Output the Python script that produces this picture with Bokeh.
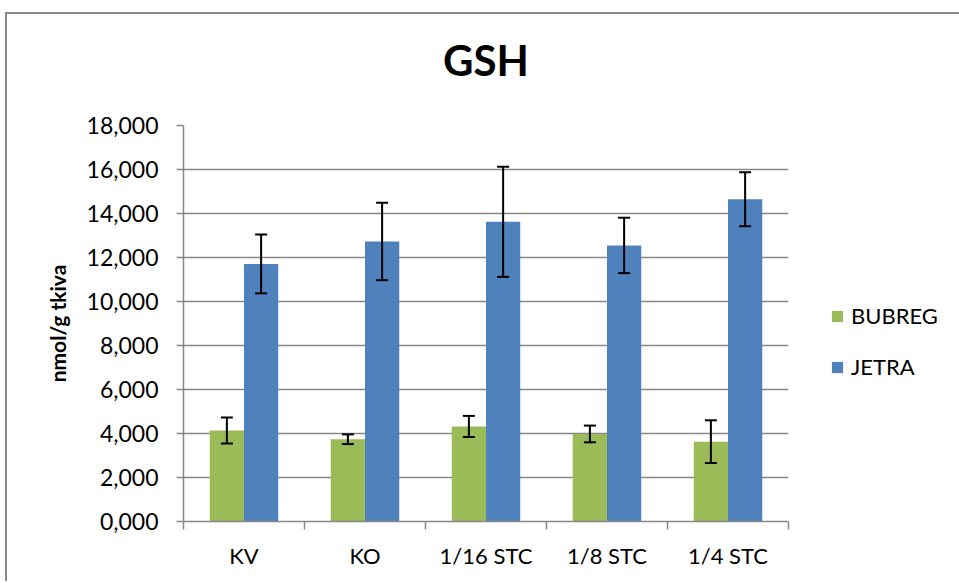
from bokeh.plotting import figure
from bokeh.models import (ColumnDataSource, Range1d, LinearAxis,
                          FixedTicker, Whisker, TeeHead, Legend, LegendItem)
from bokeh.transform import dodge
from bokeh.embed import file_html
from bokeh.resources import INLINE

title_text = "GSH"
y_label = "nmol/g tkiva"
categories = ["KV", "KO", "1/16 STC", "1/8 STC", "1/4 STC"]
bubreg = [4.14, 3.74, 4.32, 3.98, 3.63]
bubreg_err = [0.59, 0.22, 0.48, 0.38, 0.97]
jetra = [11.71, 12.73, 13.62, 12.55, 14.65]
jetra_err = [1.34, 1.76, 2.50, 1.26, 1.23]
y_ticks = [0, 2, 4, 6, 8, 10, 12, 14, 16, 18]
y_tick_labels = ["0,000", "2,000", "4,000", "6,000", "8,000", "10,000", "12,000", "14,000", "16,000", "18,000"]

FONT = "Lato"
GREEN = "#9BBB59"
BLUE = "#4F81BD"
GRID = "#888888"

n = len(categories)
centers = [i + 0.5 for i in range(n)]
src = ColumnDataSource(dict(
    x=centers,
    bub=bubreg, bub_lo=[v - e for v, e in zip(bubreg, bubreg_err)], bub_hi=[v + e for v, e in zip(bubreg, bubreg_err)],
    jet=jetra, jet_lo=[v - e for v, e in zip(jetra, jetra_err)], jet_hi=[v + e for v, e in zip(jetra, jetra_err)],
))

p = figure(x_range=Range1d(0, n), y_range=Range1d(0, 18),
           width=940, height=569, frame_width=605, frame_height=396,
           min_border_left=176, min_border_right=159, min_border_top=111, min_border_bottom=62,
           x_axis_location=None, y_axis_location=None,
           output_backend="svg", toolbar_location=None)
p.styles = {"margin-left": "7px", "margin-top": "14px",
            "box-shadow": "-2px -2px 0px 0px #8a8a8a"}

p.outline_line_color = None
p.background_fill_color = "white"
p.border_fill_color = "white"

# chart title (as a label-only axis above the frame)
taxis = LinearAxis(ticker=FixedTicker(ticks=[]))
taxis.axis_label = title_text
taxis.axis_label_text_font = FONT
taxis.axis_label_text_font_size = "42px"
taxis.axis_label_text_font_style = "bold"
taxis.axis_label_text_color = "black"
taxis.axis_label_standoff = 41
taxis.axis_line_color = None
taxis.major_tick_line_color = None
taxis.minor_tick_line_color = None
taxis.major_tick_out = 0
taxis.major_tick_in = 0
taxis.major_label_standoff = 0
p.add_layout(taxis, "above")

# y axis
yaxis = LinearAxis(ticker=FixedTicker(ticks=y_ticks),
                   major_label_overrides={t: l for t, l in zip(y_ticks, y_tick_labels)})
yaxis.axis_label = y_label
yaxis.axis_label_text_font = FONT
yaxis.axis_label_text_font_size = "21px"
yaxis.axis_label_text_font_style = "bold"
yaxis.axis_label_text_color = "black"
yaxis.axis_label_standoff = 14
yaxis.major_label_text_font = FONT
yaxis.major_label_text_font_size = "23px"
yaxis.major_label_text_color = "black"
yaxis.major_label_standoff = 18
yaxis.axis_line_color = GRID
yaxis.axis_line_width = 1.5
yaxis.major_tick_line_color = GRID
yaxis.major_tick_line_width = 1.5
yaxis.major_tick_out = 7
yaxis.major_tick_in = 0
yaxis.minor_tick_line_color = None
p.add_layout(yaxis, "left")

# boundary tick axis (category separators)
bounds = list(range(n + 1))
baxis = LinearAxis(ticker=FixedTicker(ticks=bounds),
                   major_label_overrides={i: "" for i in bounds})
baxis.axis_line_color = GRID
baxis.axis_line_width = 1.5
baxis.major_tick_line_color = GRID
baxis.major_tick_line_width = 1.5
baxis.major_tick_out = 8
baxis.major_tick_in = 0
baxis.minor_tick_line_color = None
baxis.major_label_text_font_size = "1px"
baxis.major_label_standoff = 0
p.add_layout(baxis, "below")

# category label axis
xaxis = LinearAxis(ticker=FixedTicker(ticks=centers),
                   major_label_overrides={c: name for c, name in zip(centers, categories)})
xaxis.axis_line_color = None
xaxis.major_tick_line_color = None
xaxis.minor_tick_line_color = None
xaxis.major_label_text_font = FONT
xaxis.major_label_text_font_size = "22px"
xaxis.major_label_text_color = "black"
xaxis.major_label_standoff = 6
p.add_layout(xaxis, "below")

p.xgrid.grid_line_color = None
p.ygrid.ticker = FixedTicker(ticks=y_ticks)
p.ygrid.grid_line_color = GRID
p.ygrid.grid_line_width = 1.5

W = 0.283
rb = p.vbar(x=dodge("x", -W / 2), top="bub", width=W, source=src,
            fill_color=GREEN, line_color=None)
rj = p.vbar(x=dodge("x", W / 2), top="jet", width=W, source=src,
            fill_color=BLUE, line_color=None)

for base_off, lo, hi in [(-W / 2, "bub_lo", "bub_hi"), (W / 2, "jet_lo", "jet_hi")]:
    wk = Whisker(base=dodge("x", base_off), lower=lo, upper=hi, source=src,
                 line_color="black", line_width=2, level="overlay",
                 upper_head=TeeHead(size=12, line_color="black", line_width=2),
                 lower_head=TeeHead(size=12, line_color="black", line_width=2))
    p.add_layout(wk)

legend = Legend(items=[LegendItem(label="BUBREG", renderers=[rb]),
                       LegendItem(label="JETRA", renderers=[rj])],
                location=(42, 141), orientation="vertical")
legend.label_text_font = FONT
legend.label_text_font_size = "22px"
legend.label_text_color = "black"
legend.glyph_width = 14
legend.glyph_height = 14
legend.label_standoff = 7
legend.spacing = 24
legend.padding = 0
legend.margin = 0
legend.border_line_color = None
legend.background_fill_alpha = 0
p.add_layout(legend, "right")

open("out.html", "w").write(file_html(p, INLINE))
